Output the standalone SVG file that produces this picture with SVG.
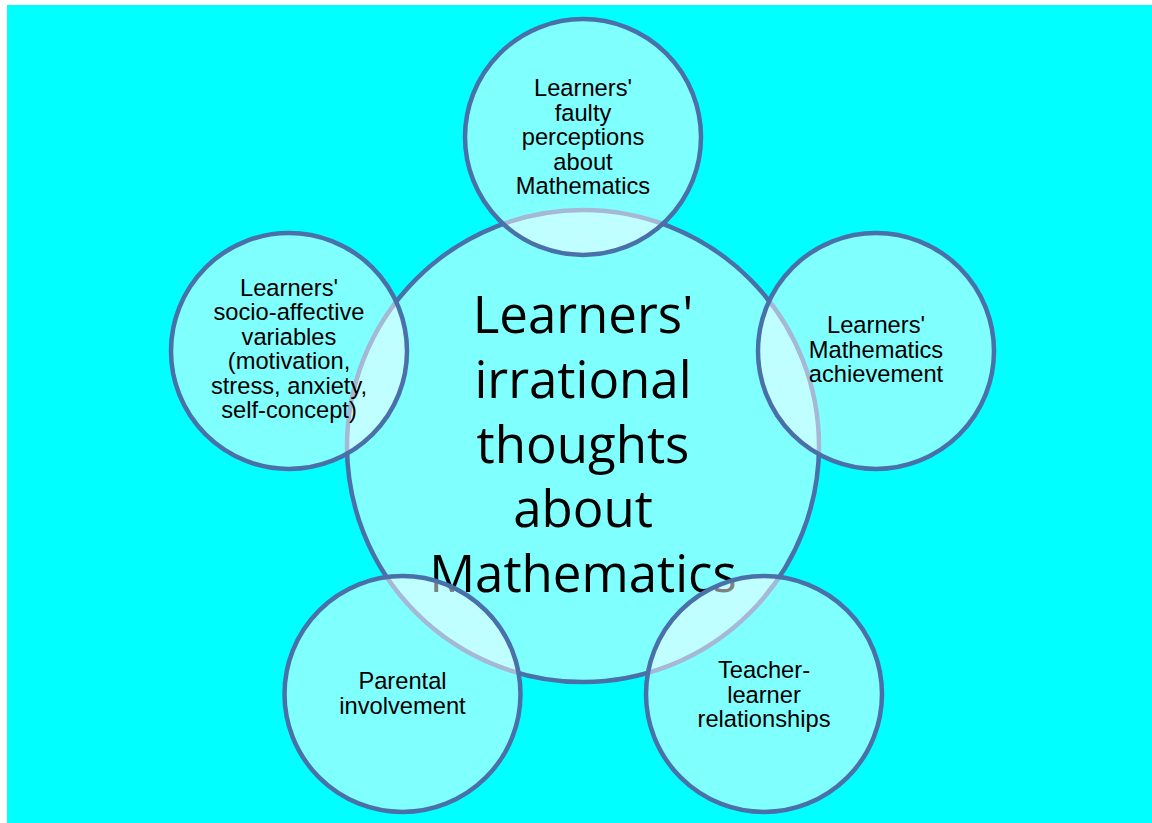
<svg xmlns="http://www.w3.org/2000/svg" width="1152" height="823" viewBox="0 0 1152 823">
  <style>
    .outer { fill: #ffffff; fill-opacity: 0.5; stroke: #4a70aa; stroke-width: 4.5; }
    .center { fill: #ffffff; fill-opacity: 0.5; stroke: #4a70aa; stroke-width: 4.5; }
    .lbl { font-family: "Liberation Sans", Arial, sans-serif; font-size: 23.7px; fill: #000000; text-anchor: middle; }
    .big { font-family: "Open Sans", "Noto Sans", sans-serif; font-size: 51px; fill: #000000; text-anchor: middle; }
  </style>
  <rect x="0" y="0" width="1152" height="823" fill="#ffffff"/>
  <rect x="7" y="5" width="1145" height="818" fill="#00ffff"/>

  <g id="node-center">
    <circle class="center" cx="583" cy="446" r="236"/>
    <text class="big" x="583" y="333">Learners'</text>
    <text class="big" x="583" y="397.75">irrational</text>
    <text class="big" x="583" y="462.5">thoughts</text>
    <text class="big" x="583" y="527.25">about</text>
    <text class="big" x="583" y="592">Mathematics</text>
  </g>

  <g id="connectors"></g>

  <g id="node-top">
    <circle class="outer" cx="583" cy="137" r="118"/>
    <text class="lbl" x="583" y="96">Learners'</text>
    <text class="lbl" x="583" y="120.5">faulty</text>
    <text class="lbl" x="583" y="145">perceptions</text>
    <text class="lbl" x="583" y="169.5">about</text>
    <text class="lbl" x="583" y="194">Mathematics</text>
  </g>

  <g id="node-left">
    <circle class="outer" cx="289" cy="351" r="118"/>
    <text class="lbl" x="289" y="296">Learners'</text>
    <text class="lbl" x="289" y="320.4">socio-affective</text>
    <text class="lbl" x="289" y="344.8">variables</text>
    <text class="lbl" x="289" y="369.2">(motivation,</text>
    <text class="lbl" x="289" y="393.6">stress, anxiety,</text>
    <text class="lbl" x="289" y="418">self-concept)</text>
  </g>

  <g id="node-right">
    <circle class="outer" cx="876" cy="351" r="118"/>
    <text class="lbl" x="876" y="333">Learners'</text>
    <text class="lbl" x="876" y="357.5">Mathematics</text>
    <text class="lbl" x="876" y="382">achievement</text>
  </g>

  <g id="node-bottom-left">
    <circle class="outer" cx="402.5" cy="694" r="118"/>
    <text class="lbl" x="402.5" y="689">Parental</text>
    <text class="lbl" x="402.5" y="714">involvement</text>
  </g>

  <g id="node-bottom-right">
    <circle class="outer" cx="764" cy="694" r="118"/>
    <text class="lbl" x="764" y="678">Teacher-</text>
    <text class="lbl" x="764" y="702.5">learner</text>
    <text class="lbl" x="764" y="727">relationships</text>
  </g>
</svg>
